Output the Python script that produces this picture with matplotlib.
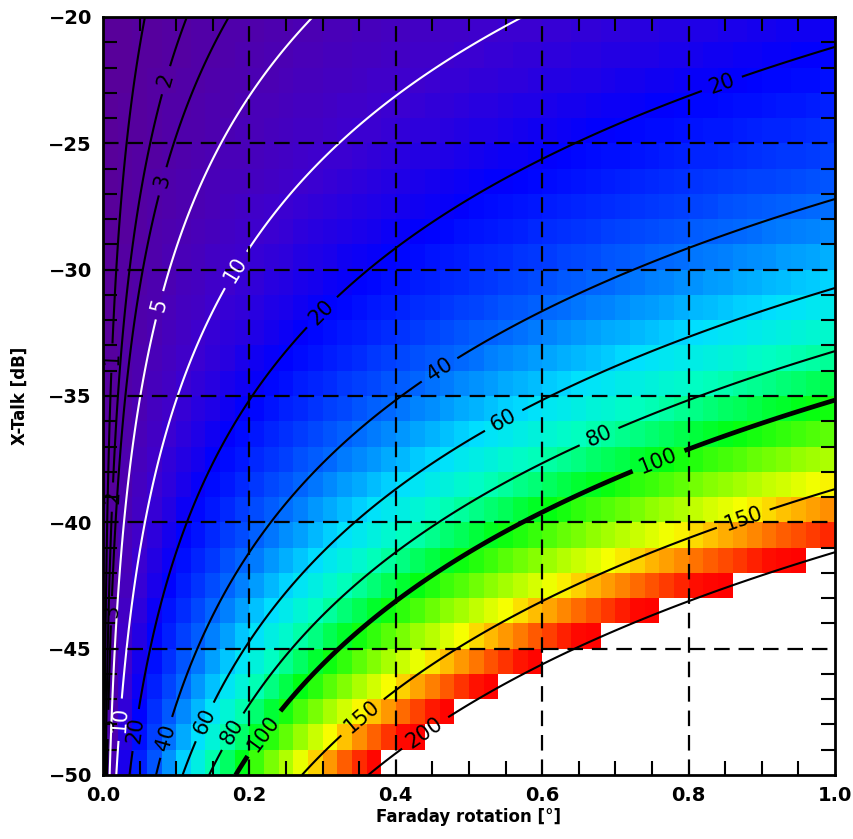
import numpy as np
import matplotlib
matplotlib.use("Agg")
import matplotlib.pyplot as plt
from matplotlib.colors import LinearSegmentedColormap, Normalize

# axes ranges and tick values
x_ticks = [0.0, 0.2, 0.4, 0.6, 0.8, 1.0]
x_tick_labels = ["0.0", "0.2", "0.4", "0.6", "0.8", "1.0"]
y_ticks = [-50, -45, -40, -35, -30, -25, -20]
y_tick_labels = ["\u221250", "\u221245", "\u221240", "\u221235", "\u221230", "\u221225", "\u221220"]

# contour levels of the ratio Faraday rotation / crosstalk amplitude [%]
levels = [1, 2, 3, 5, 10, 20, 40, 60, 80, 100, 150, 200]
white_levels = [5, 10]
thick_levels = [100]

# where the labels sit
label_spots = [(0.012, -33.5), (0.012, -39.0), (0.012, -43.5), (0.008, -48.0),
               (0.086, -22.5), (0.081, -26.5), (0.076, -31.4), (0.018, -47.8),
               (0.181, -30.0), (0.040, -48.2), (0.31, -32.0), (0.84, -22.2),
               (0.085, -48.5), (0.456, -33.8), (0.139, -47.9), (0.546, -35.9),
               (0.178, -48.3), (0.676, -36.5), (0.217, -48.3), (0.758, -37.5),
               (0.354, -47.7), (0.874, -39.8), (0.444, -48.5)]

# image cells: 0.02 deg x 1 dB
faraday_cells = np.arange(0.01, 1.0, 0.02)
xtalk_cells = np.arange(-49.5, -20.0, 1.0)


def ratio(faraday_deg, xtalk_db):
    return 100.0 * np.deg2rad(faraday_deg) / 10.0 ** (xtalk_db / 20.0)


F, X = np.meshgrid(faraday_cells, xtalk_cells)
Z = ratio(F, X)

Ff, Xf = np.meshgrid(np.linspace(0.0005, 1.0, 600), np.linspace(-50, -20, 400))
Zf = ratio(Ff, Xf)

cmap = LinearSegmentedColormap.from_list("idl_rainbow", [
    (0.00, "#58009a"), (0.05, "#3c00d0"), (0.10, "#0000ff"), (0.20, "#0068ff"),
    (0.30, "#00e0ff"), (0.38, "#00ffc0"), (0.50, "#00ff10"), (0.62, "#90ff00"),
    (0.72, "#f8ff00"), (0.77, "#ffc000"), (0.86, "#ff6000"), (0.95, "#ff0800"),
    (1.00, "#ff0000")])
cmap.set_over("white")

fig = plt.figure(figsize=(8.54, 8.39), dpi=100)
ax = fig.add_axes([103/854, 1 - 775/839, 732/854, 758/839])

ax.pcolormesh(F, X, Z, cmap=cmap, norm=Normalize(0, 200), shading="nearest")

colors = ["white" if l in white_levels else "black" for l in levels]
widths = [3.4 if l in thick_levels else 1.5 for l in levels]
cs = ax.contour(Ff, Xf, Zf, levels=levels, colors=colors, linewidths=widths)
ax.clabel(cs, levels, inline=True, fontsize=15, fmt="%d", manual=label_spots,
          inline_spacing=8)

for t in x_ticks[1:-1]:
    ax.axvline(t, color="black", lw=1.6, ls=(0, (7, 4)))
for t in y_ticks[1:-1]:
    ax.axhline(t, color="black", lw=1.6, ls=(0, (7, 4)))

ax.set_xlim(0, 1)
ax.set_ylim(-50, -20)
ax.set_xticks(x_ticks)
ax.set_xticklabels(x_tick_labels)
ax.set_yticks(y_ticks)
ax.set_yticklabels(y_tick_labels)
ax.set_xticks(np.arange(0, 1.001, 0.05), minor=True)
ax.set_yticks(np.arange(-50, -19, 1), minor=True)
ax.tick_params(which="both", direction="in", top=True, right=True, width=1.5)
ax.tick_params(which="major", length=0, labelsize=14, pad=8)
ax.tick_params(which="minor", length=10)
for lab in ax.get_xticklabels() + ax.get_yticklabels():
    lab.set_fontweight("bold")
for s in ax.spines.values():
    s.set_linewidth(2)

ax.set_xlabel("Faraday rotation [\u00b0]", fontsize=12, fontweight="bold", labelpad=2)
ax.set_ylabel("X-Talk [dB]", fontsize=12, fontweight="bold", labelpad=14)

fig.savefig("out.png", dpi=100)
